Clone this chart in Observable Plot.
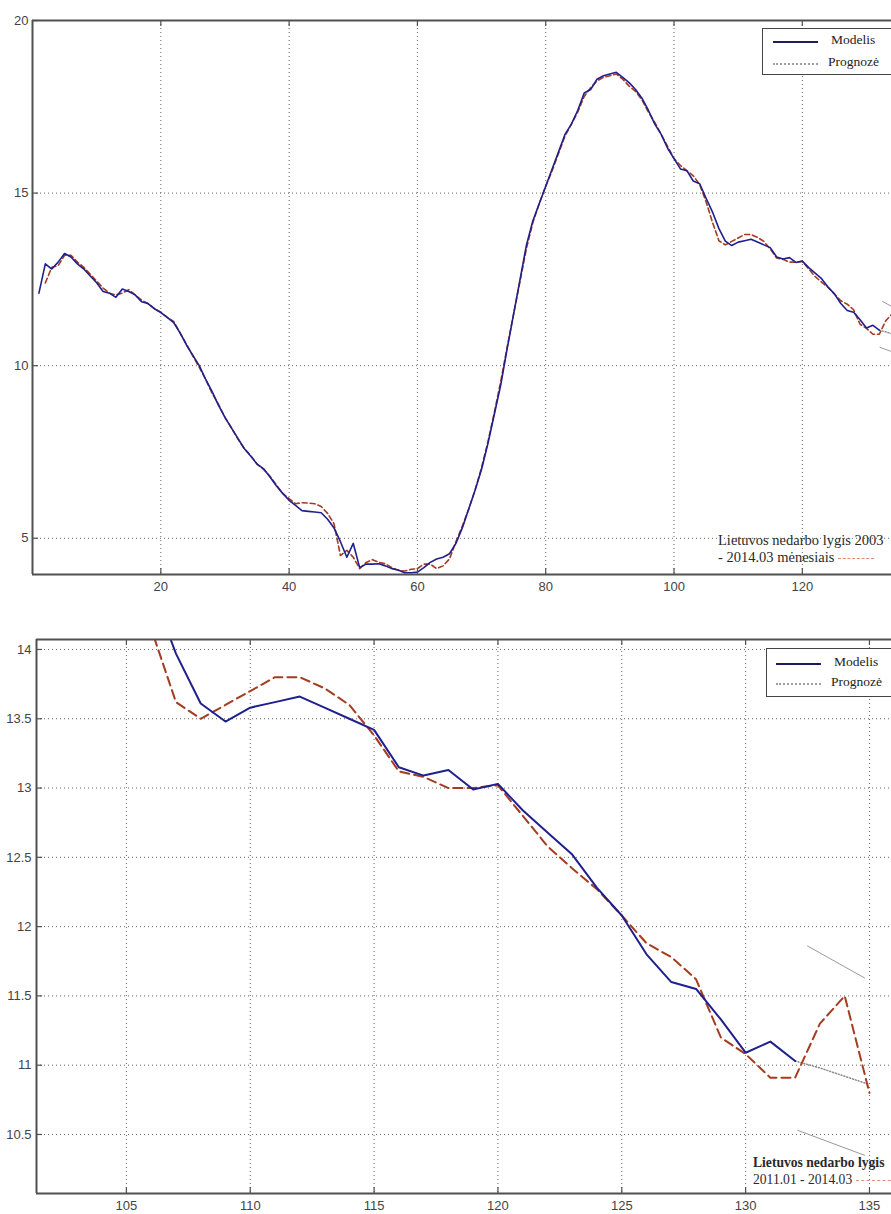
<!DOCTYPE html>
<html>
<head>
<meta charset="utf-8">
<script src="https://cdn.jsdelivr.net/npm/d3@7"></script>
<script src="https://cdn.jsdelivr.net/npm/@observablehq/plot@0.6"></script>
<style>
  body { margin: 0; background: #fff; }
  #page { position: relative; width: 891px; height: 1214px; overflow: hidden; background: #fff; }
  .chart { position: absolute; left: 0; }
  .legend { position: absolute; background: #fff; border: 1px solid #444; width: 150px;
            font-family: "Liberation Serif", "Times New Roman", serif; font-size: 13.5px; color: #222; }
  .legend .row { position: absolute; left: 0; white-space: nowrap; }
  .legend .sample { position: absolute; width: 45px; top: 0; }
  .legend .label { position: absolute; top: -9px; }
  .note { position: absolute; font-family: "Liberation Serif", "Times New Roman", serif;
          color: #2a2a2a; white-space: nowrap; line-height: 17px; }
  .tail { display: inline-block; vertical-align: middle; margin-left: 4px; border-top: 1.5px dashed #e08a7a; }
</style>
</head>
<body>
<div id="page">
  <div id="top" class="chart" style="top:0"></div>
  <div id="bottom" class="chart" style="top:600px"></div>

  <div class="legend" style="left:762px; top:28px; height:45px;">
    <div class="row" style="top:12px;">
      <div class="sample" style="left:10px; border-top:2px solid #1d1d5e;"></div>
      <div class="label" style="left:68px;">Modelis</div>
    </div>
    <div class="row" style="top:34px;">
      <div class="sample" style="left:10px; border-top:2px dotted #a0a0a0;"></div>
      <div class="label" style="left:65px;">Prognozė</div>
    </div>
  </div>

  <div class="legend" style="left:766px; top:648px; height:47px;">
    <div class="row" style="top:14px;">
      <div class="sample" style="left:9px; border-top:2px solid #1d1d5e;"></div>
      <div class="label" style="left:67px;">Modelis</div>
    </div>
    <div class="row" style="top:34px;">
      <div class="sample" style="left:9px; border-top:2px dotted #a0a0a0;"></div>
      <div class="label" style="left:64px;">Prognozė</div>
    </div>
  </div>

  <div class="note" style="left:718px; top:532px; font-size:14.5px;">Lietuvos nedarbo lygis 2003<br>- 2014.03 mėnesiais<span class="tail" style="width:36px"></span></div>
  <div class="note" style="left:753px; top:1154px; font-size:13.6px;"><b>Lietuvos nedarbo lygis</b><br>2011.01 - 2014.03<span class="tail" style="width:40px"></span></div>
</div>

<script>
// Lithuanian unemployment rate, monthly index (1 = 2003-01)
const modelStart = 1;
const modelValues = [
  12.1, 12.95, 12.8, 13.0, 13.25, 13.15, 12.95, 12.8, 12.6, 12.4,
  12.15, 12.1, 11.98, 12.22, 12.15, 12.05, 11.85, 11.8, 11.65, 11.54,
  11.4, 11.25, 10.95, 10.6, 10.3, 10.0, 9.6, 9.25, 8.85, 8.5,
  8.2, 7.9, 7.6, 7.38, 7.15, 7.02, 6.78, 6.52, 6.3, 6.1,
  5.95, 5.8, 5.78, 5.76, 5.74, 5.55, 5.3, 4.9, 4.45, 4.85,
  4.15, 4.25, 4.25, 4.26, 4.2, 4.12, 4.08, 4.0, 4.0, 4.02,
  4.15, 4.3, 4.4, 4.45, 4.55, 4.85, 5.3, 5.85, 6.4, 7.0,
  7.75, 8.6, 9.45, 10.5, 11.5, 12.5, 13.5, 14.2, 14.7, 15.2,
  15.7, 16.2, 16.7, 17.0, 17.4, 17.9, 18.0, 18.3, 18.4, 18.45,
  18.5, 18.35, 18.2, 18.0, 17.75, 17.4, 17.0, 16.7, 16.3, 16.0,
  15.7, 15.65, 15.35, 15.27, 14.85, 14.45, 13.97, 13.61, 13.48, 13.58,
  13.62, 13.66, 13.58, 13.5, 13.42, 13.15, 13.09, 13.13, 12.99, 13.03,
  12.84, 12.68, 12.52, 12.28, 12.08, 11.8, 11.6, 11.55, 11.33, 11.09,
  11.17, 11.03
];

// One-step-ahead forecast series
const forecastStart = 2;
const forecastValues = [
  12.4, 12.85, 12.9, 13.2, 13.2, 13.0, 12.85, 12.65, 12.45, 12.25,
  12.1, 12.05, 12.1, 12.2, 12.05, 11.9, 11.8, 11.65, 11.55, 11.4,
  11.28, 10.95, 10.62, 10.28, 9.95, 9.6, 9.2, 8.88, 8.5, 8.2,
  7.88, 7.6, 7.4, 7.15, 7.0, 6.8, 6.55, 6.3, 6.15, 6.0,
  6.03, 6.02, 6.0, 5.92, 5.72, 5.42, 4.5, 4.65, 4.45, 4.12,
  4.3, 4.38, 4.3, 4.26, 4.15, 4.07, 4.05, 4.1, 4.12, 4.25,
  4.25, 4.12, 4.2, 4.4, 4.9, 5.35, 5.85, 6.4, 7.05, 7.8,
  8.65, 9.55, 10.55, 11.5, 12.45, 13.4, 14.15, 14.7, 15.2, 15.65,
  16.15, 16.65, 17.0, 17.35, 17.8, 18.05, 18.25, 18.35, 18.4, 18.45,
  18.3, 18.1, 17.95, 17.7, 17.35, 17.05, 16.7, 16.35, 16.0, 15.8,
  15.65, 15.5, 15.25, 14.75, 14.15, 13.62, 13.5, 13.6, 13.7, 13.8,
  13.8, 13.72, 13.6, 13.38, 13.12, 13.08, 13.0, 13.0, 13.02, 12.8,
  12.58, 12.42, 12.27, 12.08, 11.88, 11.78, 11.62, 11.2, 11.08, 10.91,
  10.91, 11.3, 11.5, 10.8
];

// Extrapolated trend and its upper / lower bounds
const trendX = [132, 133, 134, 135];
const trendY = [11.03, 10.98, 10.92, 10.86];
const upperX = [132.5, 134.8];
const upperY = [11.86, 11.63];
const lowerX = [132.1, 134.8];
const lowerY = [10.53, 10.35];

// Axis ticks
const topXTicks = [20, 40, 60, 80, 100, 120];
const topYTicks = [5, 10, 15, 20];
const bottomXTicks = [105, 110, 115, 120, 125, 130, 135];
const bottomYTicks = [10.5, 11, 11.5, 12, 12.5, 13, 13.5, 14];

const model = modelValues.map((v, i) => ({t: modelStart + i, v}));
const forecast = forecastValues.map((v, i) => ({t: forecastStart + i, v}));
const trend = trendX.map((t, i) => ({t, v: trendY[i]}));
const upper = upperX.map((t, i) => ({t, v: upperY[i]}));
const lower = lowerX.map((t, i) => ({t, v: lowerY[i]}));

const BLUE = "#1f1f8e";
const RED = "#a53b1f";
const GRID = "#666";
const AXIS = "#505050";

function chart({width, height, margin, xDomain, yDomain, xTicks, yTicks, lineW, dash, tickPad}) {
  const plotW = width - margin.left - margin.right;
  const plotH = height - margin.top - margin.bottom;
  return Plot.plot({
    width, height,
    marginLeft: margin.left, marginRight: margin.right,
    marginTop: margin.top, marginBottom: margin.bottom,
    x: {domain: xDomain, ticks: xTicks, tickSize: 0, tickPadding: tickPad.x, label: null, tickFormat: d => String(d)},
    y: {domain: yDomain, ticks: yTicks, tickSize: 0, tickPadding: tickPad.y, label: null, tickFormat: d => String(d)},
    style: {fontFamily: "'Liberation Sans', Arial, sans-serif", fontSize: "13px", color: "#444", background: "#fff", overflow: "hidden"},
    marks: [
      // dotted grid
      Plot.ruleX(xTicks, {stroke: GRID, strokeWidth: 1, strokeDasharray: "1,3"}),
      Plot.ruleY(yTicks, {stroke: GRID, strokeWidth: 1, strokeDasharray: "1,3"}),
      // bounds and trend
      Plot.line(upper, {x: "t", y: "v", stroke: "#9a9a9a", strokeWidth: 1, clip: true}),
      Plot.line(lower, {x: "t", y: "v", stroke: "#9a9a9a", strokeWidth: 1, clip: true}),
      Plot.line(trend, {x: "t", y: "v", stroke: "#8a8a8a", strokeWidth: 1.5, strokeDasharray: "1,2", clip: true}),
      // series
      Plot.line(forecast, {x: "t", y: "v", stroke: RED, strokeWidth: lineW, strokeDasharray: dash, clip: true}),
      Plot.line(model, {x: "t", y: "v", stroke: BLUE, strokeWidth: lineW, clip: true}),
      // axes frame (right side falls outside the view)
      Plot.ruleX([xDomain[0]], {stroke: AXIS, strokeWidth: 2}),
      Plot.ruleY([yDomain[0]], {stroke: AXIS, strokeWidth: 2}),
      Plot.ruleY([yDomain[1]], {stroke: AXIS, strokeWidth: 2}),
      // inward tick marks
      Plot.tickX(xTicks, {stroke: AXIS, strokeWidth: 1.2, insetTop: plotH - 6}),
      Plot.tickX(xTicks, {stroke: AXIS, strokeWidth: 1.2, insetBottom: plotH - 6}),
      Plot.tickY(yTicks, {stroke: AXIS, strokeWidth: 1.2, insetRight: plotW - 6})
    ]
  });
}

document.getElementById("top").append(chart({
  width: 891, height: 600,
  margin: {left: 32, right: 0, top: 20, bottom: 26},
  xDomain: [0, 133.9], yDomain: [3.95, 20],
  xTicks: topXTicks, yTicks: topYTicks,
  lineW: 1.6, dash: "5,3", tickPad: {x: 7, y: 4}
}));

document.getElementById("bottom").append(chart({
  width: 891, height: 614,
  margin: {left: 36, right: 0, top: 39, bottom: 21},
  xDomain: [101.37, 135.89], yDomain: [10.074, 14.072],
  xTicks: bottomXTicks, yTicks: bottomYTicks,
  lineW: 2, dash: "9,5", tickPad: {x: 7, y: 5}
}));
</script>
</body>
</html>
